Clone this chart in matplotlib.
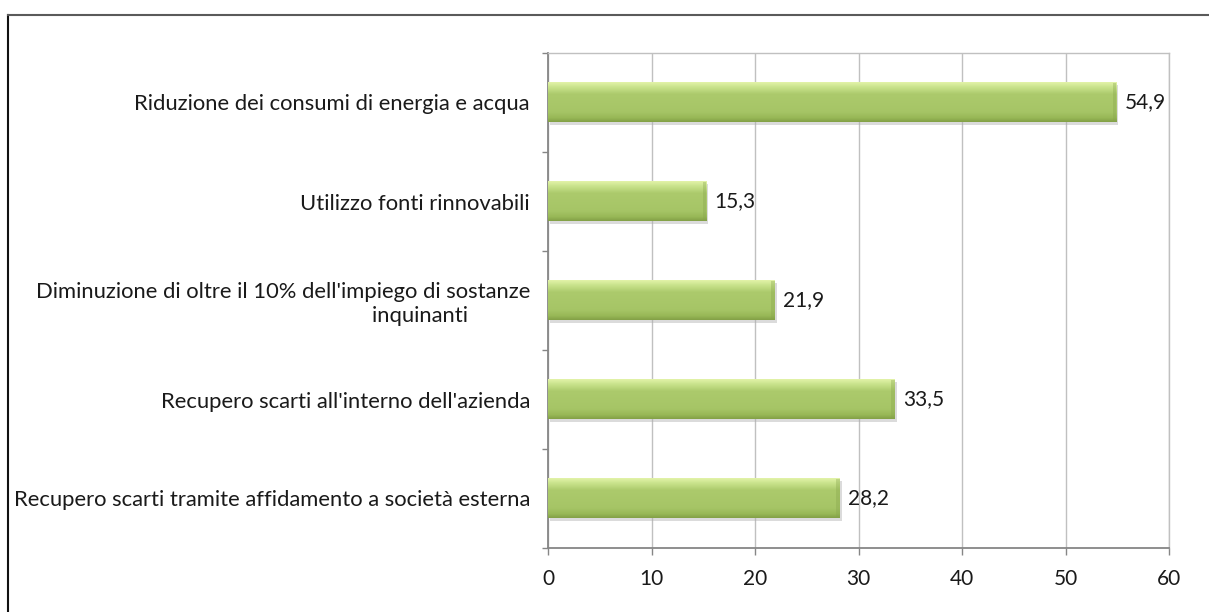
import numpy as np
import matplotlib.pyplot as plt
import matplotlib.patheffects as pe
from matplotlib.colors import LinearSegmentedColormap
from matplotlib.lines import Line2D
from matplotlib.patches import Rectangle

plt.rcParams['font.family'] = ['Lato', 'DejaVu Sans']

categories = [
    "Riduzione dei consumi di energia e acqua",
    "Utilizzo fonti rinnovabili",
    "Diminuzione di oltre il 10% dell'impiego di sostanze\ninquinanti" + "\u00a0" * 11,
    "Recupero scarti all'interno dell'azienda",
    "Recupero scarti tramite affidamento a società esterna",
]
values = [54.9, 15.3, 21.9, 33.5, 28.2]
x_ticks = [0, 10, 20, 30, 40, 50, 60]

bar_h = 0.4
green = LinearSegmentedColormap.from_list(
    "bevel", [(0.0, "#e2f2a8"), (0.12, "#c9e38c"), (0.3, "#acca6c"),
              (0.75, "#a6c566"), (0.9, "#98b857"), (1.0, "#83a147")])
grad = np.linspace(0, 1, 64).reshape(-1, 1)

fig = plt.figure(figsize=(12.09, 6.12), dpi=100)
ax = fig.add_axes([548 / 1209, 1 - 548 / 612, (1169 - 548) / 1209, (548 - 53) / 612])

y = np.arange(len(categories))
for yc, v in zip(y, values):
    # base bar with a soft drop shadow
    base = Rectangle((0, yc - bar_h / 2), v, bar_h, facecolor="#a8c868", edgecolor="none", zorder=3,
                     path_effects=[pe.SimplePatchShadow(offset=(1.5, -2), shadow_rgbFace="#b0b0b0", alpha=0.45),
                                   pe.Normal()])
    ax.add_patch(base)
    # vertical gradient for the rounded look
    ax.imshow(grad, cmap=green, aspect="auto", origin="upper", zorder=4,
              extent=(0, v, yc + bar_h / 2, yc - bar_h / 2), interpolation="bilinear")
    # darker bevel at the bar end
    ax.add_patch(Rectangle((v - 0.35, yc - bar_h / 2), 0.35, bar_h, facecolor="#86a44b",
                           alpha=0.35, edgecolor="none", zorder=5))
    ax.text(v + 0.8, yc, f"{v:.1f}".replace(".", ","), va="center", ha="left",
            fontsize=15, color="#1a1a1a", zorder=6)

ax.set_xlim(0, 60)
ax.set_ylim(len(categories) - 0.5, -0.5)
ax.set_xticks(x_ticks)
ax.set_xticklabels([str(t) for t in x_ticks])
ax.set_yticks(y)
ax.set_yticklabels(categories, fontsize=15.8, color="#1a1a1a", multialignment="right")
ax.set_yticks(np.arange(-0.5, len(categories)), minor=True)

ax.tick_params(axis="y", which="major", length=0, pad=13)
ax.tick_params(axis="y", which="minor", length=4, width=1, color="#868686", direction="out")
ax.tick_params(axis="x", which="major", length=5, width=1, color="#868686", pad=10,
               labelsize=15, labelcolor="#1a1a1a")

ax.grid(axis="x", color="#c0c0c0", linewidth=1, zorder=0)
ax.set_axisbelow(True)
for side in ("left", "bottom"):
    ax.spines[side].set_color("#868686")
    ax.spines[side].set_linewidth(1.3)
for side in ("top", "right"):
    ax.spines[side].set_color("#c0c0c0")
    ax.spines[side].set_linewidth(1)

# chart area frame
fx = 8 / 1209
fy = 1 - 14.5 / 612
fig.add_artist(Line2D([fx, fx], [0, fy], color="#111111", linewidth=1.5))
fig.add_artist(Line2D([fx, 1], [fy, fy], color="#5a5a5a", linewidth=1.5))

fig.savefig("out.png", dpi=100)
